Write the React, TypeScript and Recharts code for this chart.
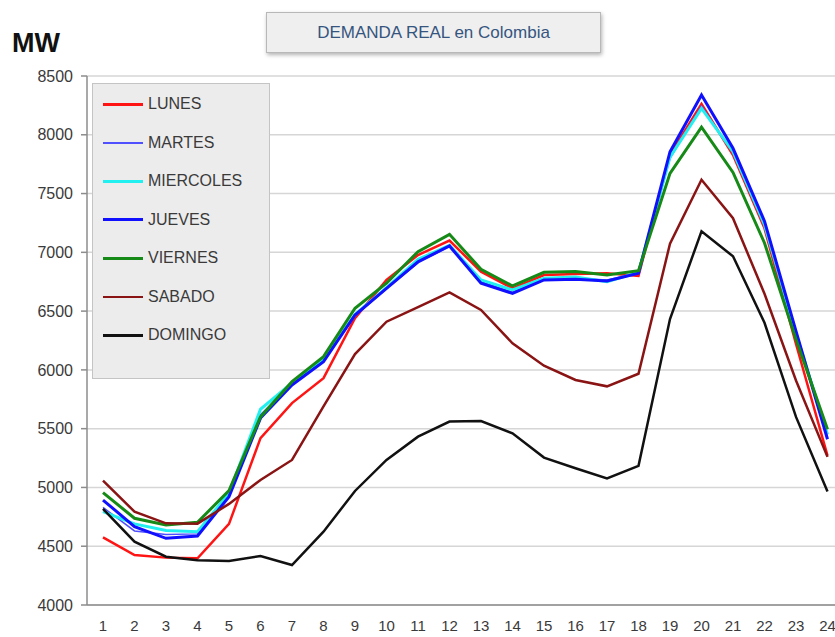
import { LineChart, Line, XAxis, YAxis, CartesianGrid } from 'recharts';

const HOURS = ['1', '2', '3', '4', '5', '6', '7', '8', '9', '10', '11', '12', '13', '14', '15', '16', '17', '18', '19', '20', '21', '22', '23', '24'];
const Y_TICKS = [4000, 4500, 5000, 5500, 6000, 6500, 7000, 7500, 8000, 8500];

const LUNES = [4576, 4425, 4403, 4397, 4690, 5420, 5718, 5930, 6439, 6765, 6977, 7100, 6836, 6694, 6807, 6816, 6822, 6799, 7830, 8262, 7828, 7204, 6220, 5270];
const MARTES = [4830, 4630, 4600, 4605, 4930, 5620, 5880, 6080, 6460, 6690, 6910, 7050, 6750, 6660, 6770, 6780, 6765, 6825, 7800, 8245, 7845, 7225, 6300, 5430];
const MIERCOLES = [4794, 4690, 4633, 4624, 4950, 5665, 5890, 6090, 6470, 6700, 6940, 7060, 6765, 6680, 6780, 6790, 6750, 6830, 7810, 8225, 7856, 7235, 6310, 5450];
const JUEVES = [4893, 4667, 4567, 4587, 4922, 5590, 5872, 6070, 6467, 6694, 6920, 7054, 6737, 6651, 6765, 6771, 6756, 6822, 7856, 8338, 7885, 7265, 6330, 5410];
const VIERNES = [4956, 4738, 4681, 4704, 4973, 5600, 5900, 6113, 6524, 6737, 7006, 7153, 6856, 6714, 6830, 6836, 6807, 6844, 7672, 8064, 7680, 7080, 6260, 5495];
const SABADO = [5058, 4794, 4695, 4692, 4860, 5064, 5234, 5690, 6135, 6410, 6533, 6660, 6510, 6226, 6036, 5914, 5860, 5967, 7074, 7617, 7290, 6648, 5910, 5260];
const DOMINGO = [4817, 4539, 4411, 4380, 4374, 4417, 4340, 4624, 4970, 5234, 5432, 5560, 5565, 5460, 5254, 5163, 5076, 5184, 6432, 7179, 6966, 6401, 5600, 4966];

const SERIES = [
  { key: 'LUNES', values: LUNES, color: '#ff1414', width: 2.5 },
  { key: 'MARTES', values: MARTES, color: '#5050ff', width: 1.5 },
  { key: 'MIERCOLES', values: MIERCOLES, color: '#22f0f0', width: 3 },
  { key: 'JUEVES', values: JUEVES, color: '#1010ff', width: 3 },
  { key: 'VIERNES', values: VIERNES, color: '#168a16', width: 3 },
  { key: 'SABADO', values: SABADO, color: '#8a1414', width: 2.5 },
  { key: 'DOMINGO', values: DOMINGO, color: '#111111', width: 2.5 },
];

const data = HOURS.map((h, i) => {
  const row: Record<string, string | number> = { hour: h };
  SERIES.forEach(s => { row[s.key] = s.values[i]; });
  return row;
});

const FONT = '"Liberation Sans", Arial, sans-serif';

export default function App() {
  return (
    <div style={{ position: 'fixed', left: 0, top: 0, width: 835, height: 637, overflow: 'hidden', background: '#fff', fontFamily: FONT }}>
      <div style={{ position: 'absolute', left: 12, top: 28, fontSize: 27, fontWeight: 'bold', color: '#111' }}>MW</div>

      <div
        style={{
          position: 'absolute', left: 266, top: 12, width: 333, height: 39,
          background: '#efefef', border: '1px solid #b8b8b8',
          boxShadow: '1px 2px 4px rgba(0,0,0,0.3)',
          display: 'flex', alignItems: 'center', justifyContent: 'center',
          color: '#35557f', fontSize: 17,
        }}
      >
        DEMANDA REAL en Colombia
      </div>

      <div style={{ position: 'absolute', left: 0, top: 0 }}>
        <LineChart width={860} height={637} data={data} margin={{ top: 76, right: 16.5, left: 27, bottom: 7 }}>
          <CartesianGrid vertical={false} stroke="#d6d6d6" strokeWidth={1.5} />
          <XAxis
            dataKey="hour"
            padding={{ left: 16, right: 16 }}
            stroke="#8c8c8c"
            strokeWidth={1.5}
            tickLine={false}
            tickSize={0}
            tickMargin={15}
            height={25}
            interval={0}
            tick={{ fill: '#3a3a3a', fontSize: 15, fontFamily: FONT }}
          />
          <YAxis
            domain={[4000, 8500]}
            ticks={Y_TICKS}
            width={60}
            stroke="#8c8c8c"
            strokeWidth={1.5}
            tickSize={6}
            tickMargin={8}
            tick={{ fill: '#3a3a3a', fontSize: 16, fontFamily: FONT }}
          />
          {SERIES.map(s => (
            <Line
              key={s.key}
              type="linear"
              dataKey={s.key}
              stroke={s.color}
              strokeWidth={s.width}
              dot={false}
              isAnimationActive={false}
            />
          ))}
        </LineChart>
      </div>

      <div
        style={{
          position: 'absolute', left: 92, top: 83, width: 178, height: 296,
          background: '#ececec', border: '1px solid #c4c4c4', boxSizing: 'border-box',
          paddingTop: 1,
        }}
      >
        {SERIES.map(s => (
          <div key={s.key} style={{ display: 'flex', alignItems: 'center', height: 38.5 }}>
            <div style={{ marginLeft: 10, width: 40, height: s.width, background: s.color }} />
            <span style={{ marginLeft: 5, fontSize: 16, color: '#3a3a3a' }}>{s.key}</span>
          </div>
        ))}
      </div>
    </div>
  );
}
